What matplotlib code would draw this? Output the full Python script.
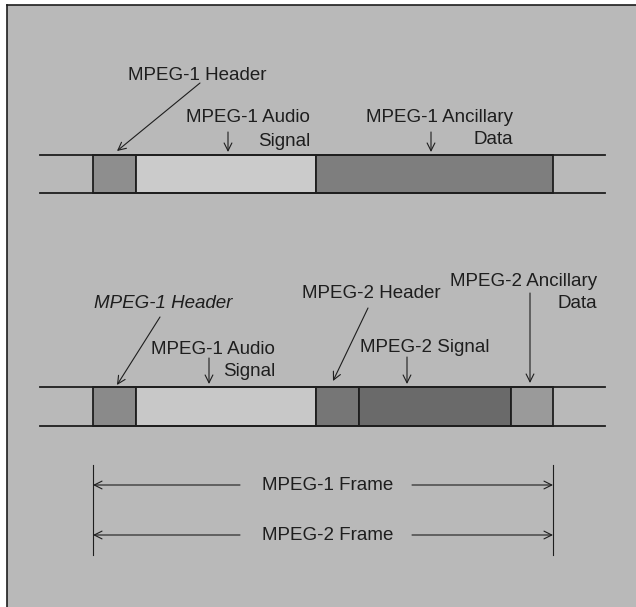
import matplotlib
matplotlib.use('Agg')
from matplotlib import pyplot as plt
from matplotlib.patches import Rectangle

plt.rcParams['font.family'] = ['Liberation Sans', 'DejaVu Sans']

# frame layouts: (name, start, end, shade)
mpeg1_names = ['MPEG-1 Header', 'MPEG-1 Audio Signal', 'MPEG-1 Ancillary Data']
mpeg1_start = [93, 136, 316]
mpeg1_end = [136, 316, 553]
mpeg1_shade = ['#8e8e8e', '#cbcbcb', '#7e7e7e']

mpeg2_names = ['MPEG-1 Header', 'MPEG-1 Audio Signal', 'MPEG-2 Header',
               'MPEG-2 Signal', 'MPEG-2 Ancillary Data']
mpeg2_start = [93, 136, 316, 359, 511]
mpeg2_end = [136, 316, 359, 511, 553]
mpeg2_shade = ['#8a8a8a', '#c8c8c8', '#767676', '#6a6a6a', '#9a9a9a']

frame_labels = ['MPEG-1 Frame', 'MPEG-2 Frame']

bg = '#b9b9b9'
ink = '#1e1e1e'

fig = plt.figure(figsize=(6.36, 6.07), dpi=100)
fig.patch.set_facecolor('white')
ax = fig.add_axes([0, 0, 1, 1])
ax.set_xlim(0, 636)
ax.set_ylim(607, 0)
ax.axis('off')

# background panel with left/top border
ax.add_patch(Rectangle((7, 5), 640, 610, facecolor=bg, edgecolor='none'))
ax.plot([7, 7], [5, 607], color=ink, lw=1.2)
ax.plot([7, 636], [5, 5], color=ink, lw=1.2)


def draw_bar(y0, y1, starts, ends, shades):
    for s, e, c in zip(starts, ends, shades):
        ax.add_patch(Rectangle((s, y0), e - s, y1 - y0, facecolor=c,
                               edgecolor=ink, lw=1.3))
    ax.plot([40, 605], [y0, y0], color=ink, lw=1.3)
    ax.plot([40, 605], [y1, y1], color=ink, lw=1.3)


def arrow(x0, y0, x1, y1):
    ax.annotate('', xy=(x1, y1), xytext=(x0, y0),
                arrowprops=dict(arrowstyle='->', color=ink, lw=0.8,
                                mutation_scale=14, shrinkA=0, shrinkB=0))


fs = 13.5
draw_bar(155, 193, mpeg1_start, mpeg1_end, mpeg1_shade)
draw_bar(387, 426, mpeg2_start, mpeg2_end, mpeg2_shade)

# top frame labels
ax.text(197, 75, 'MPEG-1 Header', ha='center', va='center', fontsize=fs, color=ink)
arrow(200, 83, 117, 151)
ax.text(310, 118, 'MPEG-1 Audio', ha='right', va='center', fontsize=fs, color=ink)
ax.text(310, 141, 'Signal', ha='right', va='center', fontsize=fs, color=ink)
arrow(228, 132, 228, 152)
ax.text(513, 117, 'MPEG-1 Ancillary', ha='right', va='center', fontsize=fs, color=ink)
ax.text(513, 139, 'Data', ha='right', va='center', fontsize=fs, color=ink)
arrow(431, 132, 431, 152)

# bottom frame labels
ax.text(163, 303, 'MPEG-1 Header', ha='center', va='center', fontsize=fs,
        color=ink, style='italic')
arrow(160, 317, 117, 385)
ax.text(275, 349, 'MPEG-1 Audio', ha='right', va='center', fontsize=fs, color=ink)
ax.text(275, 372, 'Signal', ha='right', va='center', fontsize=fs, color=ink)
arrow(209, 358, 209, 384)
ax.text(371, 293, 'MPEG-2 Header', ha='center', va='center', fontsize=fs, color=ink)
arrow(368, 308, 333, 381)
ax.text(425, 347, 'MPEG-2 Signal', ha='center', va='center', fontsize=fs, color=ink)
arrow(407, 357, 407, 384)
ax.text(597, 282, 'MPEG-2 Ancillary', ha='right', va='center', fontsize=fs, color=ink)
ax.text(597, 303, 'Data', ha='right', va='center', fontsize=fs, color=ink)
arrow(530, 293, 530, 383)

# frame length indicators
left = mpeg2_start[0]
right = mpeg2_end[-1]
ax.plot([left, left], [465, 555], color=ink, lw=0.8)
ax.plot([right, right], [465, 555], color=ink, lw=0.8)
for lab, y in zip(frame_labels, [485, 535]):
    ax.text(328, y, lab, ha='center', va='center', fontsize=fs, color=ink)
    arrow(240, y, left, y)
    arrow(412, y, right, y)

fig.savefig('out.png', dpi=100, facecolor=fig.get_facecolor())
